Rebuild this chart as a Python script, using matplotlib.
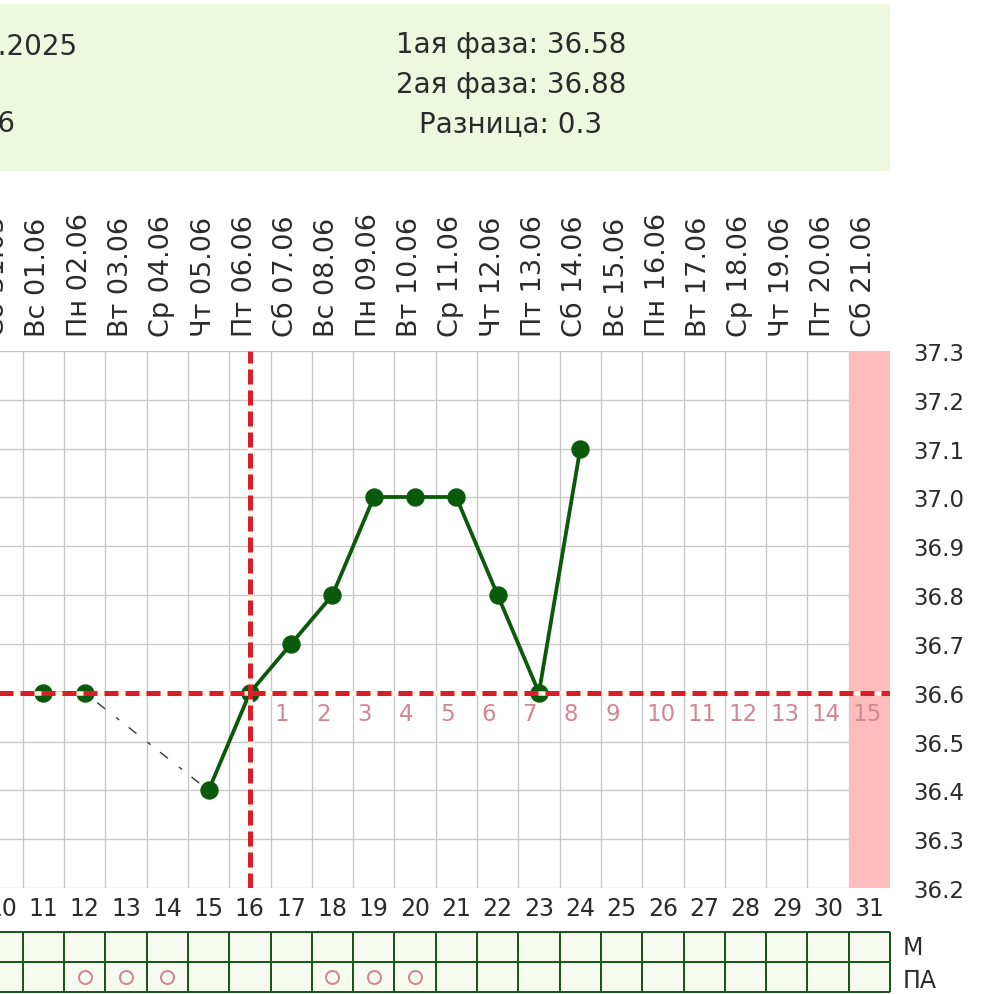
import numpy as np
import matplotlib
matplotlib.use('Agg')
import matplotlib.pyplot as plt
import matplotlib.transforms as mtransforms
from matplotlib.patches import Rectangle

plt.rcParams['font.family'] = ['DejaVu Sans']
plt.rcParams['lines.scale_dashes'] = False

# ---------------- data ----------------
cycle_days = [10, 11, 12, 13, 14, 15, 16, 17, 18, 19, 20, 21,
              22, 23, 24, 25, 26, 27, 28, 29, 30, 31]
date_labels = ['Сб 31.05', 'Вс 01.06', 'Пн 02.06', 'Вт 03.06', 'Ср 04.06',
               'Чт 05.06', 'Пт 06.06', 'Сб 07.06', 'Вс 08.06', 'Пн 09.06',
               'Вт 10.06', 'Ср 11.06', 'Чт 12.06', 'Пт 13.06', 'Сб 14.06',
               'Вс 15.06', 'Пн 16.06', 'Вт 17.06', 'Ср 18.06', 'Чт 19.06',
               'Пт 20.06', 'Сб 21.06']
temp_days = [11, 12, 15, 16, 17, 18, 19, 20, 21, 22, 23, 24]
temps = [36.6, 36.6, 36.4, 36.6, 36.7, 36.8, 37.0, 37.0, 37.0, 36.8, 36.6, 37.1]
coverline = 36.6
ovulation_day = 16
luteal_days = [17, 18, 19, 20, 21, 22, 23, 24, 25, 26, 27, 28, 29, 30, 31]
luteal_labels = ['1', '2', '3', '4', '5', '6', '7', '8', '9', '10',
                 '11', '12', '13', '14', '15']
highlight_day = 31
pa_days = [12, 13, 14, 18, 19, 20]
y_ticks = [36.2, 36.3, 36.4, 36.5, 36.6, 36.7, 36.8, 36.9, 37.0, 37.1, 37.2, 37.3]
header_left = ['Начало цикла: 22.05.2025', 'День овуляции: 16']
header_right = ['1ая фаза: 36.58', '2ая фаза: 36.88', 'Разница: 0.3']
row_labels = ['М', 'ПА']

# ---------------- styles ----------------
W, H = 993, 995
TXT = '#2b2b2b'
GREEN = '#0b5a0b'
RED = '#d81e28'
CREAM = '#fff7e4'
GRID = '#c6c6c6'
PINKTXT = '#d48692'

def fx(px):
    return px / W

def fy(py):
    return 1 - py / H

def pt(px):
    return px * 72 / 100

fig = plt.figure(figsize=(W / 100, H / 100), dpi=100)
fig.patch.set_facecolor('white')

# header box
fig.patches.append(Rectangle((0, fy(172)), fx(890), (172 - 5) / H,
                             transform=fig.transFigure, facecolor='#eef8de',
                             edgecolor='none', zorder=0))
fig.text(fx(77), fy(54), header_left[0], ha='right', va='baseline',
         fontsize=20, color=TXT)
fig.text(fx(15), fy(132), header_left[1], ha='right', va='baseline',
         fontsize=20, color=TXT)
for txt, base in zip(header_right, [53, 93, 132]):
    fig.text(fx(511), fy(base), txt, ha='center', va='baseline',
             fontsize=20, color=TXT)

# main chart axes
L, R, T, B = -18.6, 890, 352, 889
ax = fig.add_axes([fx(L), fy(B), (R - L) / W, (B - T) / H])
ax.set_xlim(cycle_days[0] - 0.5, cycle_days[-1] + 0.5)
ax.set_ylim(y_ticks[0], y_ticks[-1])
for s in ax.spines.values():
    s.set_visible(False)

ax.set_xticks([d + 0.5 for d in cycle_days[:-1]], minor=True)
ax.set_yticks(y_ticks)
ax.set_yticklabels([f'{v:.1f}' for v in y_ticks])
ax.yaxis.tick_right()
ax.tick_params(axis='y', length=0, pad=pt(23), labelsize=16.5, labelcolor=TXT)
ax.set_xticks(cycle_days)
ax.set_xticklabels([str(d) for d in cycle_days])
ax.tick_params(axis='x', which='both', length=0, pad=pt(8), labelsize=17,
               labelcolor=TXT)
ax.set_axisbelow(True)
ax.grid(True, which='major', axis='y', color=GRID, lw=pt(1.3))
ax.grid(True, which='minor', axis='x', color=GRID, lw=pt(1.3))

ax.axvspan(highlight_day - 0.5, highlight_day + 0.5, color='#ffbcbc',
           zorder=1, lw=0)

# top date labels
trans_top = mtransforms.offset_copy(
    mtransforms.blended_transform_factory(ax.transData, ax.transAxes),
    fig=fig, x=-5, y=15, units='dots')
for d, lab in zip(cycle_days, date_labels):
    ax.text(d, 1.0, lab, transform=trans_top, rotation=90, ha='center',
            va='bottom', fontsize=19.5, color=TXT, clip_on=False)

# temperature line
for i in range(len(temp_days) - 1):
    d1, d2 = temp_days[i], temp_days[i + 1]
    t1, t2 = temps[i], temps[i + 1]
    if d2 - d1 == 1:
        ax.plot([d1, d2], [t1, t2], color=GREEN, lw=pt(3.8), zorder=3,
                solid_capstyle='round')
    else:
        ax.plot([d1, d2], [t1, t2], color='#3a3a3a', lw=pt(1.4), zorder=3,
                dashes=(pt(4), pt(12), pt(10), pt(14)))
ax.plot(temp_days, temps, 'o', color=GREEN, ms=pt(17), zorder=4)

# coverline and ovulation line
ax.axhline(coverline, color=CREAM, lw=pt(4.5), zorder=5)
ax.axhline(coverline, color=RED, lw=pt(5), zorder=6,
           dashes=(pt(14), pt(7)))
ax.axvline(ovulation_day, color=CREAM, lw=pt(4.5), zorder=5)
ax.axvline(ovulation_day, color=RED, lw=pt(5), zorder=6,
           dashes=(pt(15), pt(6)))

# luteal phase day numbers
for d, lab in zip(luteal_days, luteal_labels):
    ax.text(d - 0.5 + 0.1, coverline - 0.043, lab, ha='left', va='center',
            fontsize=16.5, color=PINKTXT, zorder=7)

# bottom table
tax = fig.add_axes([fx(L), fy(993), (R - L) / W, (993 - 933) / H])
tax.set_xlim(cycle_days[0] - 0.5, cycle_days[-1] + 0.5)
tax.set_ylim(0, 2)
tax.set_facecolor('#f5fbef')
tax.set_xticks([])
tax.set_yticks([])
for s in tax.spines.values():
    s.set_visible(False)
tax.vlines([d + 0.5 for d in cycle_days], 0, 2, color='#1d561d', lw=pt(2),
           clip_on=False)
tax.hlines([0, 1, 2], cycle_days[0] - 0.5, cycle_days[-1] + 0.5,
           color='#1d561d', lw=pt(2), clip_on=False)
tax.plot(pa_days, [0.5] * len(pa_days), 'o', mfc='none', mec=PINKTXT,
         ms=pt(13), mew=pt(2))

fig.text(fx(903), fy(948), row_labels[0], ha='left', va='center',
         fontsize=17, color=TXT)
fig.text(fx(903), fy(981), row_labels[1], ha='left', va='center',
         fontsize=17, color=TXT)

fig.savefig('out.png', dpi=100)
